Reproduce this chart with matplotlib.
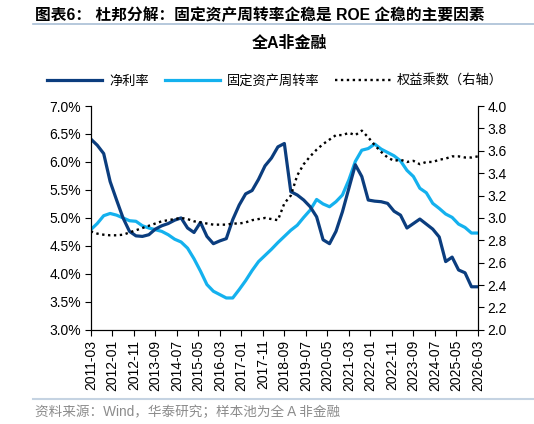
import numpy as np
import matplotlib
matplotlib.use('Agg')
import matplotlib.pyplot as plt
from matplotlib.ticker import FuncFormatter

plt.rcParams['font.family'] = ['Liberation Sans', 'Noto Sans CJK SC']

# quarterly data, 2011-03 .. 2026-03
quarters = [f'{2011 + (2 + 3 * i) // 12}-{(2 + 3 * i) % 12 + 1:02d}' for i in range(61)]

net_margin = [6.41, 6.30, 6.15, 5.65, 5.32, 5.00, 4.76, 4.68, 4.67, 4.70,
              4.80, 4.86, 4.90, 4.96, 5.00, 4.82, 4.74, 4.92, 4.67, 4.54,
              4.59, 4.63, 4.97, 5.23, 5.43, 5.49, 5.69, 5.93, 6.07, 6.27,
              6.33, 5.47, 5.41, 5.32, 5.20, 5.02, 4.61, 4.54, 4.76, 5.11,
              5.53, 5.95, 5.74, 5.32, 5.30, 5.29, 5.26, 5.12, 5.05, 4.82,
              4.90, 4.98, 4.89, 4.80, 4.66, 4.22, 4.30, 4.07, 4.02, 3.77,
              3.77]

fixed_turnover = [4.79, 4.90, 5.04, 5.08, 5.05, 5.00, 4.95, 4.94, 4.86, 4.82,
                  4.79, 4.76, 4.70, 4.62, 4.57, 4.46, 4.27, 4.05, 3.81, 3.69,
                  3.63, 3.57, 3.57, 3.72, 3.88, 4.06, 4.22, 4.33, 4.44, 4.56,
                  4.67, 4.78, 4.87, 5.01, 5.14, 5.33, 5.25, 5.20, 5.29, 5.41,
                  5.68, 6.01, 6.21, 6.24, 6.32, 6.23, 6.17, 6.11, 6.02, 5.85,
                  5.74, 5.53, 5.45, 5.26, 5.17, 5.07, 5.01, 4.89, 4.83, 4.73,
                  4.73]

equity_mult = [2.88, 2.86, 2.85, 2.845, 2.845, 2.85, 2.87, 2.89, 2.91, 2.93,
               2.95, 2.97, 2.98, 2.99, 3.00, 2.99, 2.97, 2.96, 2.95, 2.94,
               2.94, 2.94, 2.95, 2.95, 2.96, 2.98, 2.99, 3.00, 2.99, 2.98,
               3.13, 3.20, 3.38, 3.48, 3.55, 3.61, 3.66, 3.70, 3.74, 3.74,
               3.76, 3.74, 3.78, 3.72, 3.65, 3.59, 3.54, 3.51, 3.52, 3.50,
               3.51, 3.48, 3.50, 3.50, 3.52, 3.53, 3.55, 3.55, 3.54, 3.54,
               3.55]

tick_labels = ['2011-03', '2012-01', '2012-11', '2013-09', '2014-07', '2015-05',
               '2016-03', '2017-01', '2017-11', '2018-09', '2019-07', '2020-05',
               '2021-03', '2022-01', '2022-11', '2023-09', '2024-07', '2025-05',
               '2026-03']


def month_index(s):
    y, m = s.split('-')
    return (int(y) - 2011) * 12 + int(m) - 3


x = [month_index(q) for q in quarters]
tick_pos = [month_index(t) for t in tick_labels]

dark = '#0B3D7E'
light = '#14B1EE'

fig = plt.figure(figsize=(5.34, 4.24), dpi=100)
ax = fig.add_axes([0.170, 0.222, 0.725, 0.528])
ax2 = ax.twinx()

l1, = ax.plot(x, net_margin, color=dark, lw=2.3, label='净利率', zorder=3)
l2, = ax.plot(x, fixed_turnover, color=light, lw=2.3, label='固定资产周转率', zorder=2)
l3, = ax2.plot(x, equity_mult, color='black', lw=1.7, linestyle=(0, (1, 1.5)),
               label='权益乘数（右轴）')

ax.set_xlim(0, 180)
ax.set_ylim(3.0, 7.0)
ax.set_yticks(np.arange(3.0, 7.01, 0.5))
ax.yaxis.set_major_formatter(FuncFormatter(lambda v, p: f'{v:.1f}%'))
ax2.set_ylim(2.0, 4.0)
ax2.set_yticks(np.arange(2.0, 4.01, 0.2))
ax2.yaxis.set_major_formatter(FuncFormatter(lambda v, p: f'{v:.1f}'))
ax.set_xticks(tick_pos)
ax.set_xticklabels(tick_labels, rotation=90)

for a in (ax, ax2):
    a.spines['top'].set_visible(False)
    for s in a.spines.values():
        s.set_linewidth(0.8)
    a.tick_params(direction='out', length=4, width=0.8, labelsize=10, pad=3)

fig.text(0.066, 0.965, '图表6： 杜邦分解：固定资产周转率企稳是 ROE 企稳的主要因素',
         fontsize=11.3, fontweight='bold', va='center', ha='left')
fig.add_artist(plt.Line2D([0.062, 1.0], [0.943, 0.943], color='#A9BFD6', lw=1.2))
fig.text(0.543, 0.897, '全A非金融', fontsize=11.5, fontweight='bold', va='center', ha='center')

fig.legend(handles=[l1, l2, l3], loc='center', bbox_to_anchor=(0.515, 0.809),
           ncol=3, frameon=False, fontsize=9.5, handlelength=4.2,
           handletextpad=0.5, columnspacing=1.2)

fig.add_artist(plt.Line2D([0.062, 1.0], [0.059, 0.059], color='#C5D3E2', lw=1.5))
fig.text(0.066, 0.029, '资料来源：Wind，华泰研究；样本池为全 A 非金融',
         fontsize=9.8, color='#8C8C8C', va='center', ha='left')

fig.savefig('out.png', dpi=100)
